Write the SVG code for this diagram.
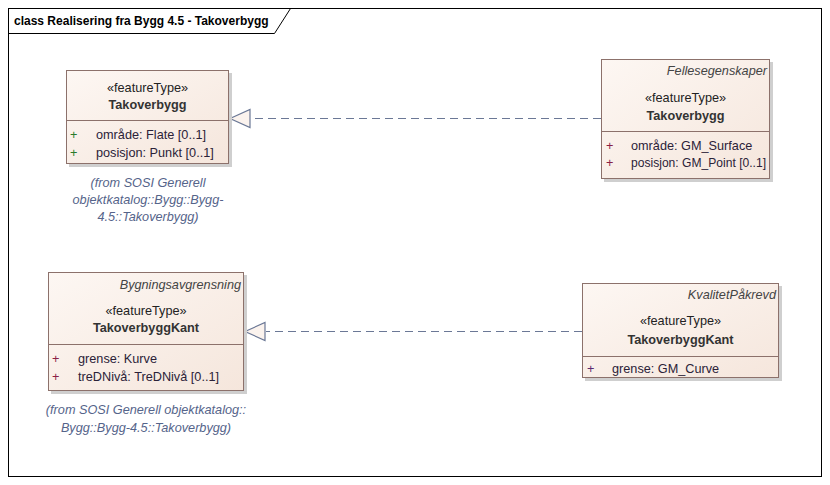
<svg xmlns="http://www.w3.org/2000/svg" width="830" height="485" viewBox="0 0 830 485">
<defs>
<linearGradient id="boxfill" x1="0" y1="0" x2="1" y2="1">
<stop offset="0" stop-color="#fdf7f3"/>
<stop offset="1" stop-color="#f5e6dc"/>
</linearGradient>
</defs>
<style>
text{font-family:"Liberation Sans",Arial,sans-serif;font-size:12.7px;fill:#222}
.title{font-size:12px;font-weight:bold;fill:#000}
.box{fill:url(#boxfill);stroke:#8c716b;stroke-width:1}
.shadow{fill:#cfcfcf}
.div{stroke:#8c716b;stroke-width:1}
.st{text-anchor:middle}
.nm{text-anchor:middle;font-weight:bold;fill:#333}
.tag{text-anchor:end;font-style:italic;fill:#444}
.from{text-anchor:middle;font-style:italic;fill:#55648a}
.attr{fill:#2b2238}
.pg{fill:#2a7a2a}
.pm{fill:#8a1f45}
.pp{fill:#5a2a70}
.dash{stroke:#6b7896;stroke-width:1.2;stroke-dasharray:8 5;fill:none}
.tri{fill:#fbf3ee;stroke:#6b7896;stroke-width:1.2}
</style>
<rect x="0" y="0" width="830" height="485" fill="#fff"/>
<g id="frame">
<rect x="8.5" y="8.5" width="813" height="468" fill="none" stroke="#000" stroke-width="1"/>
<path d="M8.5 33.5 H274.5 L290.5 8.5" fill="none" stroke="#000" stroke-width="1"/>
<text class="title" x="14" y="25">class Realisering fra Bygg 4.5 - Takoverbygg</text>
</g>
<g id="connectors">
<line class="dash" x1="601" y1="118.5" x2="251" y2="118.5"/>
<polygon class="tri" points="230,118.5 250,109.5 250,127.5"/>
<line class="dash" x1="582" y1="331.5" x2="266" y2="331.5"/>
<polygon class="tri" points="245,331.5 265,322.5 265,340.5"/>
</g>
<g id="node-takoverbygg-1">
<rect class="shadow" x="69" y="73" width="163" height="94"/>
<rect class="box" x="66.5" y="70.5" width="162" height="93"/>
<line class="div" x1="66.5" y1="120.5" x2="228.5" y2="120.5"/>
<text class="st" x="147.5" y="92">«featureType»</text>
<text class="nm" x="147.5" y="109">Takoverbygg</text>
<text class="pg" x="70" y="139">+</text>
<text class="attr" x="96" y="139">område: Flate [0..1]</text>
<text class="pg" x="70" y="157">+</text>
<text class="attr" x="96" y="157">posisjon: Punkt [0..1]</text>
<text class="from" x="148" y="187">(from SOSI Generell</text>
<text class="from" x="148" y="204">objektkatalog::Bygg::Bygg-</text>
<text class="from" x="148" y="221">4.5::Takoverbygg)</text>
</g>
<g id="node-takoverbygg-2">
<rect class="shadow" x="604" y="62" width="169" height="120"/>
<rect class="box" x="601.5" y="59.5" width="168" height="119"/>
<line class="div" x1="601.5" y1="131.5" x2="769.5" y2="131.5"/>
<text class="tag" x="767" y="75">Fellesegenskaper</text>
<text class="st" x="685.5" y="102">«featureType»</text>
<text class="nm" x="685.5" y="120">Takoverbygg</text>
<text class="pm" x="606" y="150">+</text>
<text class="attr" x="631" y="150">område: GM_Surface</text>
<text class="pm" x="606" y="167">+</text>
<text class="attr" x="631" y="167" textLength="135" lengthAdjust="spacingAndGlyphs">posisjon: GM_Point [0..1]</text>
</g>
<g id="node-takoverbyggkant-1">
<rect class="shadow" x="51" y="275" width="196" height="119"/>
<rect class="box" x="48.5" y="272.5" width="195" height="118"/>
<line class="div" x1="48.5" y1="344.5" x2="243.5" y2="344.5"/>
<text class="tag" x="241" y="289">Bygningsavgrensning</text>
<text class="st" x="146" y="315">«featureType»</text>
<text class="nm" x="146" y="332">TakoverbyggKant</text>
<text class="pm" x="52" y="363">+</text>
<text class="attr" x="78" y="363">grense: Kurve</text>
<text class="pm" x="52" y="381">+</text>
<text class="attr" x="78" y="381">treDNivå: TreDNivå [0..1]</text>
<text class="from" x="146" y="414">(from SOSI Generell objektkatalog::</text>
<text class="from" x="146" y="432">Bygg::Bygg-4.5::Takoverbygg)</text>
</g>
<g id="node-takoverbyggkant-2">
<rect class="shadow" x="585" y="286" width="197" height="95"/>
<rect class="box" x="582.5" y="283.5" width="196" height="94"/>
<line class="div" x1="582.5" y1="356.5" x2="778.5" y2="356.5"/>
<text class="tag" x="776" y="299">KvalitetPåkrevd</text>
<text class="st" x="680.5" y="325">«featureType»</text>
<text class="nm" x="680.5" y="344">TakoverbyggKant</text>
<text class="pp" x="587" y="373">+</text>
<text class="attr" x="612" y="373">grense: GM_Curve</text>
</g>
</svg>
